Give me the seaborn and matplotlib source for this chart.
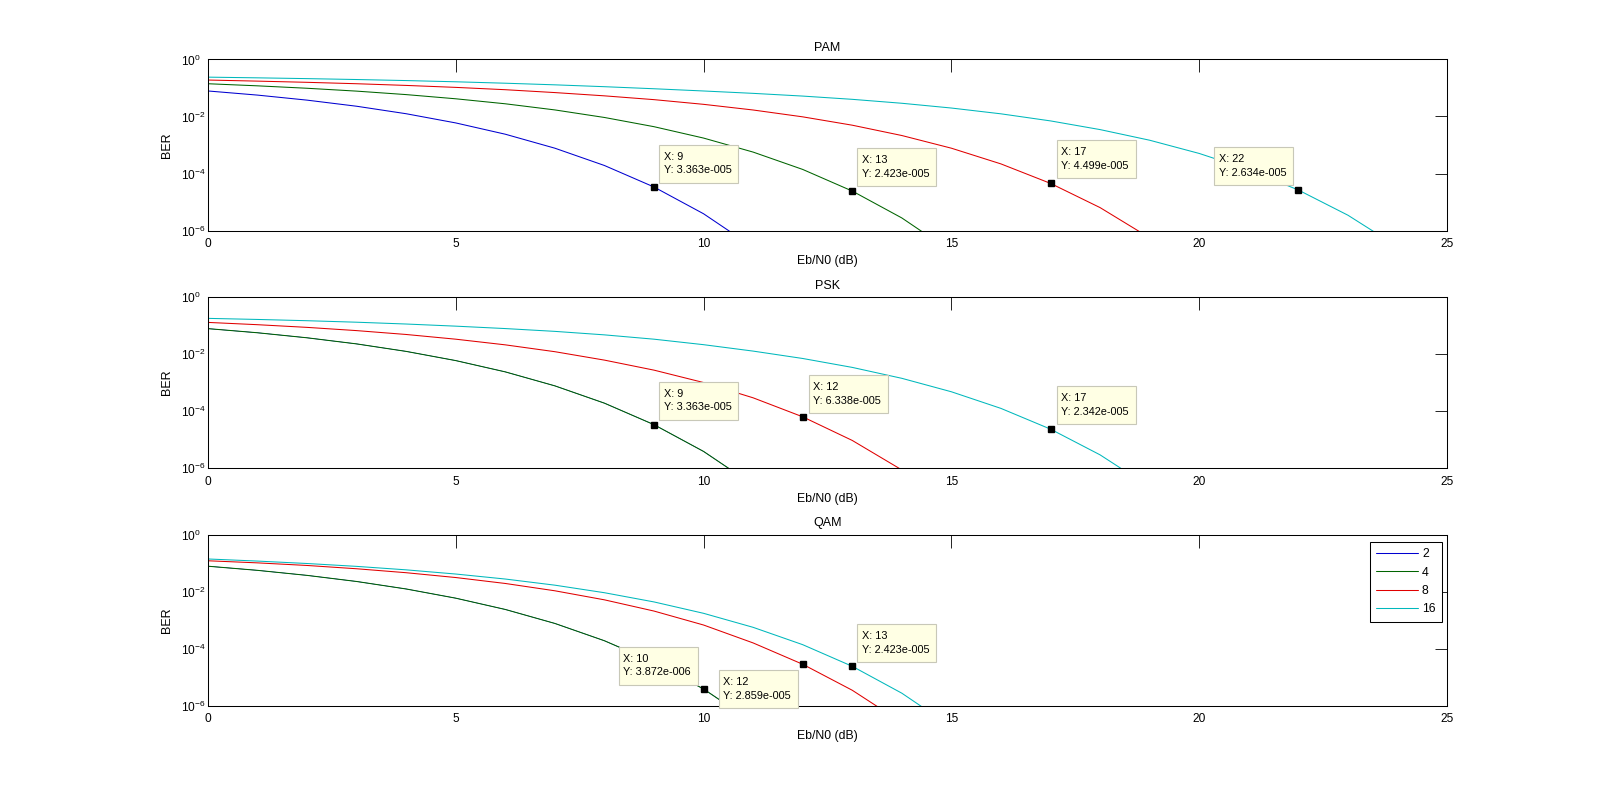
import matplotlib
matplotlib.use('Agg')
import matplotlib.pyplot as plt
import matplotlib.transforms as mtransforms
from matplotlib.patches import Rectangle
from matplotlib.ticker import FixedLocator, NullLocator, FuncFormatter
import numpy as np
import pandas as pd
import seaborn as sns

# ---------------- data ----------------
ebn0_db = list(range(0, 26))
ebn0_ticks = [0, 5, 10, 15, 20, 25]
ber_ticks = [1e-6, 1e-4, 1e-2, 1e0]
orders = ['2', '4', '8', '16']
titles = ['PAM', 'PSK', 'QAM']

pam_2 = [0.0786, 0.0563, 0.0375, 0.0229, 0.0125, 0.00595, 0.00239, 7.73e-4,
         1.91e-4, 3.363e-5, 3.872e-6, 2.61e-7]
pam_4 = [0.141, 0.119, 0.0978, 0.0776, 0.0586, 0.0418, 0.0279, 0.0170,
         0.00924, 0.00439, 0.00175, 5.64e-4, 1.39e-4, 2.423e-5, 2.76e-6, 1.84e-7]
pam_8 = [0.19, 0.174, 0.158, 0.141, 0.123, 0.105, 0.087, 0.069, 0.053, 0.039,
         0.0267, 0.0169, 0.00972, 0.00495, 0.00215, 7.72e-4, 2.17e-4, 4.499e-5,
         6.36e-6, 5.54e-7]
pam_16 = [0.24, 0.227, 0.213, 0.198, 0.182, 0.165, 0.147, 0.129, 0.111, 0.094,
          0.0785, 0.0648, 0.0520, 0.0400, 0.0291, 0.0198, 0.0124, 0.0070, 0.00347,
          0.00147, 5.05e-4, 1.35e-4, 2.634e-5, 3.44e-6, 2.72e-7]

psk_2 = [0.0786, 0.0563, 0.0375, 0.0229, 0.0125, 0.00595, 0.00239, 7.73e-4,
         1.91e-4, 3.363e-5, 3.872e-6, 2.61e-7]
psk_4 = [0.0786, 0.0563, 0.0375, 0.0229, 0.0125, 0.00595, 0.00239, 7.73e-4,
         1.91e-4, 3.363e-5, 3.872e-6, 2.61e-7]
psk_8 = [0.13, 0.108, 0.087, 0.067, 0.049, 0.0335, 0.0212, 0.0122, 0.00618,
         0.00275, 0.00101, 2.94e-4, 6.338e-5, 9.4e-6, 8.7e-7]
psk_16 = [0.180, 0.165, 0.149, 0.132, 0.114, 0.096, 0.079, 0.063, 0.0475, 0.0335,
          0.0215, 0.0128, 0.00705, 0.00343, 0.00142, 4.79e-4, 1.25e-4, 2.342e-5,
          2.93e-6, 2.19e-7]

qam_2 = [0.0786, 0.0563, 0.0375, 0.0229, 0.0125, 0.00595, 0.00239, 7.73e-4,
         1.91e-4, 3.363e-5, 3.872e-6, 2.61e-7]
qam_4 = [0.0786, 0.0563, 0.0375, 0.0229, 0.0125, 0.00595, 0.00239, 7.73e-4,
         1.91e-4, 3.363e-5, 3.872e-6, 2.61e-7]
qam_8 = [0.122, 0.103, 0.0835, 0.064, 0.0465, 0.0315, 0.0195, 0.0108, 0.0052,
         0.0021, 6.8e-4, 1.6e-4, 2.859e-5, 3.5e-6, 2.6e-7]
qam_16 = [0.141, 0.119, 0.0978, 0.0776, 0.0586, 0.0418, 0.0279, 0.0170,
          0.00924, 0.00439, 0.00175, 5.64e-4, 1.39e-4, 2.423e-5, 2.76e-6, 1.84e-7]

series = {
    'PAM': [pam_2, pam_4, pam_8, pam_16],
    'PSK': [psk_2, psk_4, psk_8, psk_16],
    'QAM': [qam_2, qam_4, qam_8, qam_16],
}

# data tips: (order, index into Eb/N0)
tips = {
    'PAM': [('2', 9), ('4', 13), ('8', 17), ('16', 22)],
    'PSK': [('4', 9), ('8', 12), ('16', 17)],
    'QAM': [('4', 10), ('8', 12), ('16', 13)],
}
# ---------------- style / layout ----------------
colors = ['#0000d0', '#006400', '#e00000', '#00b8bc']
tip_offsets = {  # lower-left corner of the tip box, pixels from the marker
    'PAM': [(5, 4.4), (5, 5), (6, 5), (-84, 5)],
    'PSK': [(5, 5), (6, 4), (6, 5)],
    'QAM': [(-84.7, 4.4), (-84, -43.6), (5, 4.4)],
}
BOX_W, BOX_H = 79, 38
LW = 0.75

sns.set_theme(style='white')
plt.rcParams.update({
    'font.family': ['Liberation Sans', 'DejaVu Sans'],
    'mathtext.default': 'regular',
    'axes.edgecolor': 'black',
    'axes.linewidth': 0.75,
    'xtick.color': 'black',
    'ytick.color': 'black',
    'text.color': 'black',
    'axes.labelcolor': 'black',
    'figure.facecolor': 'white',
    'axes.facecolor': 'white',
})


def matlab_num(v):
    mant, ex = f'{v:.3e}'.split('e')
    e = int(ex)
    return f"{mant}e{'-' if e < 0 else '+'}{abs(e):03d}"


fig = plt.figure(figsize=(15.99, 7.93), dpi=100)
bottoms = [0.7093, 0.4096, 0.11]

for k, name in enumerate(titles):
    ax = fig.add_axes([0.13, bottoms[k], 0.775, 0.2157])
    ax.set_yscale('log')
    rows = []
    for m, vals in zip(orders, series[name]):
        for i, v in enumerate(vals):
            rows.append({'EbN0': ebn0_db[i], 'BER': v, 'M': m})
    df = pd.DataFrame(rows)
    sns.lineplot(data=df, x='EbN0', y='BER', hue='M', hue_order=orders,
                 palette=colors, estimator=None, sort=False, linewidth=LW,
                 ax=ax, legend=(k == 2))
    if name != 'PAM':
        # M=2 coincides with M=4 here and is hidden beneath it
        ax.lines[0].set_linewidth(0.4)
    ax.set_xlim(0, 25)
    ax.set_ylim(1e-6, 1e0)
    ax.xaxis.set_major_locator(FixedLocator(ebn0_ticks))
    ax.yaxis.set_major_locator(FixedLocator(ber_ticks))
    ax.yaxis.set_minor_locator(NullLocator())
    ax.xaxis.set_minor_locator(NullLocator())
    ax.yaxis.set_major_formatter(FuncFormatter(
        lambda v, p: r'$\mathdefault{10^{%d}}$' % int(round(np.log10(v)))))
    ax.tick_params(direction='in', length=9, width=0.6, top=True, right=True,
                   labelsize=8.6)
    ax.tick_params(axis='x', pad=5.5)
    ax.tick_params(axis='y', pad=19.2)
    for lab in ax.get_yticklabels():
        lab.set_horizontalalignment('left')
    for s in ax.spines.values():
        s.set_visible(True)
        s.set_color('black')
        s.set_linewidth(0.75)
    ax.set_title(name, fontsize=9, pad=6)
    ax.set_xlabel('Eb/N0 (dB)', fontsize=8.8, labelpad=3.5)
    ax.set_ylabel('BER', fontsize=9, labelpad=6)

    # data tips
    for (m, idx), (ox, oy) in zip(tips[name], tip_offsets[name]):
        xv = ebn0_db[idx]
        yv = series[name][orders.index(m)][idx]
        ax.plot([xv], [yv], marker='s', markersize=5, color='black',
                linestyle='none', zorder=6, clip_on=False)
        base = mtransforms.ScaledTranslation(xv, yv, ax.transData)
        rect = Rectangle((0, 0), BOX_W, BOX_H, facecolor='#ffffe4',
                         edgecolor='#c8c8b8', linewidth=0.8,
                         transform=mtransforms.Affine2D().translate(ox, oy) + base,
                         zorder=7, clip_on=False)
        ax.add_patch(rect)
        ax.text(0, 0, f'X: {xv}', fontsize=7.8, ha='left', va='center',
                transform=mtransforms.Affine2D().translate(ox + 4.6, oy + BOX_H - 12) + base,
                zorder=8, clip_on=False)
        ax.text(0, 0, f'Y: {matlab_num(yv)}', fontsize=7.8, ha='left', va='center',
                transform=mtransforms.Affine2D().translate(ox + 4.6, oy + BOX_H - 25.7) + base,
                zorder=8, clip_on=False)

    if k == 2:
        handles, labels = ax.get_legend_handles_labels()
        leg = ax.legend(handles, labels, loc='upper right',
                        bbox_to_anchor=(1441.6 / 1599, 1 - 542.3 / 793),
                        bbox_transform=fig.transFigure, borderaxespad=0,
                        fontsize=8.8, frameon=True, fancybox=False,
                        edgecolor='black', framealpha=1, handlelength=3.4,
                        handletextpad=0.35, labelspacing=0.52, borderpad=0.5)
        for h in leg.get_lines():
            h.set_linewidth(LW)
        leg.get_frame().set_linewidth(0.75)

fig.savefig('out.png', dpi=100, facecolor='white')
